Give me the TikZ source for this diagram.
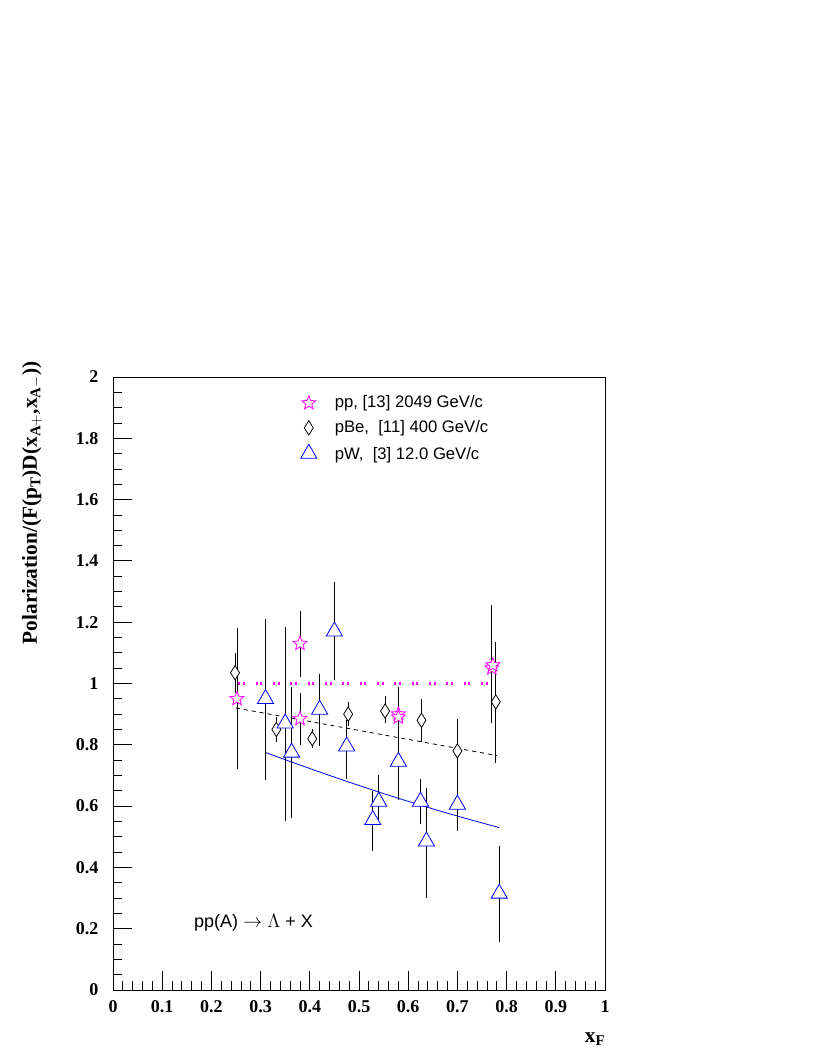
\documentclass[tikz,border=0pt]{standalone}
\usepackage{fontspec}
\setmainfont{Liberation Serif}
\setsansfont{Liberation Sans}
\usetikzlibrary{shapes.geometric}
\definecolor{ppcol}{RGB}{255,0,255}
\definecolor{pwcol}{RGB}{0,0,255}

\begin{document}
\begin{tikzpicture}[x=0.75pt,y=0.75pt,line width=0.6pt]
    \tikzstyle{ppmark}=[star,star points=5,star point ratio=2.3,draw=ppcol,minimum size=11pt,inner sep=0pt]
    \tikzstyle{bemark}=[diamond,draw=black,minimum width=7pt,minimum height=11pt,inner sep=0pt,aspect=0.6]
    \tikzstyle{pwmark}=[regular polygon,regular polygon sides=3,draw=pwcol,minimum size=14pt,inner sep=0pt]
    \tikzstyle{ticklab}=[font=\bfseries\fontsize{13.5}{15}\selectfont]
    \tikzstyle{legtext}=[font=\sffamily\fontsize{12.5}{14}\selectfont,anchor=west]
    \useasboundingbox (0,0) rectangle (817,1058);

    \begin{scope}[shift={(113,68)},x=369pt,y=229.875pt]
    % Frame and ticks
    \draw (0,0) rectangle (1,2);
    \foreach \i in {1,...,49}
        \draw (\i/50,0) -- ++(0,7pt);
    \foreach \i in {1,...,9}
        \draw (\i/10,0) -- ++(0,14pt);
    \foreach \i in {1,...,39}
        \draw (0,\i/20) -- ++(7pt,0);
    \foreach \i in {1,...,9}
        \draw (0,\i/5) -- ++(14pt,0);
    \foreach \v in {0,0.1,0.2,0.3,0.4,0.5,0.6,0.7,0.8,0.9,1}
        \node[ticklab,below] at (\v,-0.02) {\v};
    \foreach \v in {0,0.2,0.4,0.6,0.8,1,1.2,1.4,1.6,1.8,2}
        \node[ticklab,left] at (-0.02,\v) {\v};

    % Axis titles
    \node[font=\bfseries\fontsize{16}{18}\selectfont,rotate=90] (ytitle) at (-0.165,1.59) {Polarization/(F(p$_{\mathbf T}$)D(x$_{\mathbf{A+}}$,x$_{\mathbf{A-}}$))};
    \node[font=\bfseries\fontsize{16}{18}\selectfont] (xtitle) at (0.98,-0.16) {x$_{\mathbf F}$};

    % Fits
    \draw[draw=ppcol,line width=2pt,dash pattern=on 1.5pt off 2pt on 1.5pt off 8pt] (0.255,1) -- (0.77,1);
    \draw[dashed] (0.25,0.92) -- (0.78,0.765);
    \draw[pwcol] (0.31,0.775) .. controls (0.47,0.68) and (0.62,0.6) .. (0.785,0.53);

    % Error bars
    \foreach \x/\lo/\hi in {0.252/0.72/1.18, 0.38/1.02/1.235, 0.38/0.80/0.97, 0.58/0.79/0.99, 0.77/0.87/1.255,
        0.248/0.97/1.10, 0.332/0.81/0.89, 0.405/0.79/0.85, 0.478/0.86/0.94, 0.553/0.87/0.96, 0.627/0.81/0.95, 0.70/0.67/0.885, 0.778/0.74/1.135,
        0.31/0.685/1.21, 0.35/0.55/1.185, 0.363/0.56/0.99, 0.42/0.795/1.03, 0.45/1.01/1.33, 0.475/0.69/0.88, 0.528/0.455/0.65,
        0.54/0.55/0.70, 0.58/0.62/0.87, 0.625/0.54/0.69, 0.637/0.30/0.66, 0.70/0.52/0.68, 0.785/0.155/0.47}
        \draw (\x,\lo) -- (\x,\hi);

    % Data points
    \foreach \x/\y [count=\n] in {0.252/0.95, 0.38/1.13, 0.38/0.885, 0.58/0.90, 0.58/0.89, 0.77/1.05, 0.772/1.06}
        \node[ppmark,fill=white] (pp-\n) at (\x,\y) {};
    \foreach \x/\y [count=\n] in {0.248/1.035, 0.332/0.85, 0.405/0.82, 0.478/0.90, 0.553/0.91, 0.627/0.88, 0.70/0.78, 0.778/0.94}
        \node[bemark,fill=white] (be-\n) at (\x,\y) {};
    \foreach \x/\y [count=\n] in {0.31/0.95, 0.35/0.87, 0.363/0.775, 0.42/0.915, 0.45/1.17, 0.475/0.795, 0.528/0.555,
        0.54/0.615, 0.58/0.745, 0.625/0.615, 0.637/0.485, 0.70/0.605, 0.785/0.315}
        \node[pwmark,fill=white] (pw-\n) at (\x,\y) {};

    % Legend
    \node[ppmark] (lpp) at (0.398,1.915) {};
    \node[bemark] (lbe) at (0.398,1.834) {};
    \node[pwmark] (lpw) at (0.398,1.75) {};
    \node[legtext] at (0.441,1.915) {pp, [13] 2049 GeV/c};
    \node[legtext] at (0.441,1.834) {pBe,\ \ [11] 400 GeV/c};
    \node[legtext] at (0.441,1.746) {pW,\ \ [3] 12.0 GeV/c};

    % Reaction
    \node[legtext,font=\sffamily\fontsize{13.5}{15}\selectfont] (reac) at (0.155,0.22) {pp(A) $\rightarrow$ $\Lambda$ + X};
    \end{scope}
\end{tikzpicture}
\end{document}
